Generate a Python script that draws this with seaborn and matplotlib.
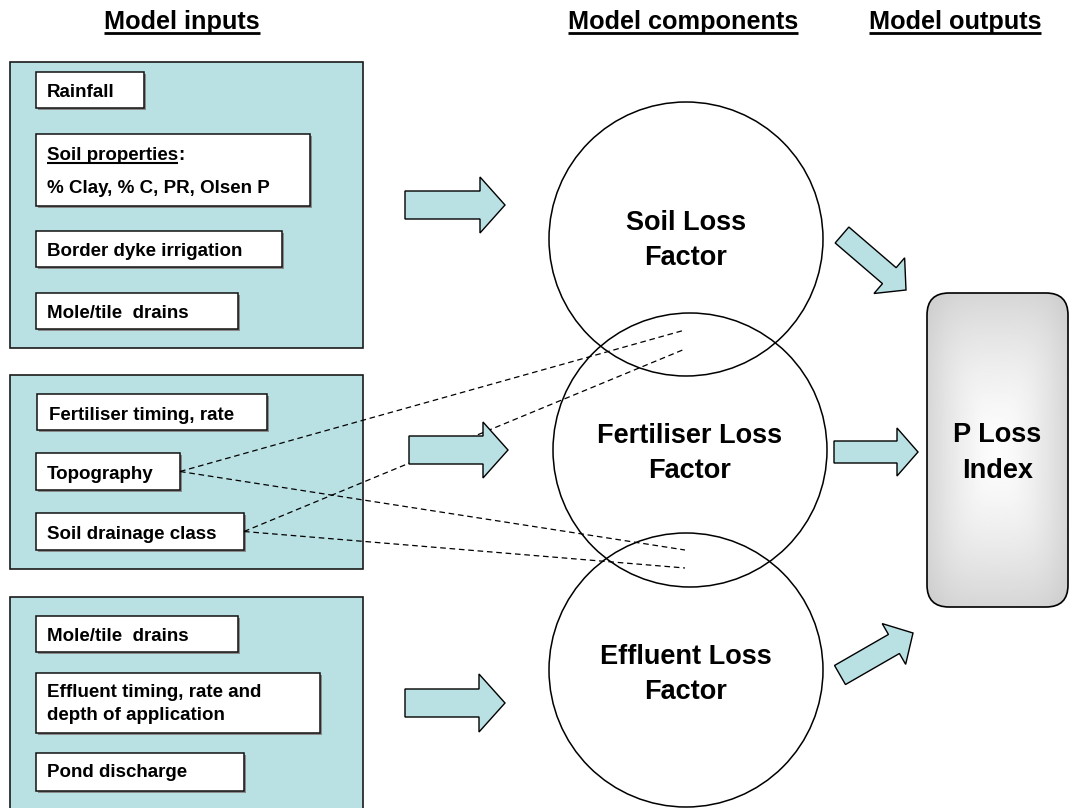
import numpy as np
import seaborn as sns
import matplotlib.pyplot as plt
from matplotlib.patches import Rectangle, Circle, FancyArrow, FancyBboxPatch

# ---- content ----
headers = ["Model inputs", "Model components", "Model outputs"]
soil_inputs = ["Rainfall", "Soil properties:\n% Clay, % C, PR, Olsen P",
               "Border dyke irrigation", "Mole/tile  drains"]
fert_inputs = ["Fertiliser timing, rate", "Topography", "Soil drainage class"]
effl_inputs = ["Mole/tile  drains", "Effluent timing, rate and\ndepth of application",
               "Pond discharge"]
components = ["Soil Loss\nFactor", "Fertiliser Loss\nFactor", "Effluent Loss\nFactor"]
output_label = "P Loss\nIndex"
# dashed links: (input item, component it also feeds)
links = [("Topography", 0), ("Soil drainage class", 0),
         ("Topography", 2), ("Soil drainage class", 2)]

# ---- layout (pixel coords, y down) ----
header_x = [182, 683, 955]
header_base = 29
panels = [(10, 62, 363, 348), (10, 375, 363, 569), (10, 597, 363, 830)]
# per item: box (x0, y0, x1, y1), first baseline
item_boxes = [
    [(36, 72, 144, 108, 97), (36, 134, 310, 206, 160), (36, 231, 282, 267, 256), (36, 293, 238, 329, 318)],
    [(37, 394, 267, 430, 420), (36, 453, 180, 490, 479), (36, 513, 244, 550, 539)],
    [(36, 616, 238, 652, 641), (36, 673, 320, 733, 697), (36, 753, 244, 791, 777)],
]
circles = [(686, 239, 137), (690, 450, 137), (686, 670, 137)]
circle_base = [230, 443, 664]
link_ends = {("Topography", 0): (685, 330), ("Soil drainage class", 0): (685, 349),
             ("Topography", 2): (685, 550), ("Soil drainage class", 2): (685, 568)}
# arrows: x0, y0, x1, y1, shaft width, head width, head length
arrows = [(405, 205, 505, 205, 28, 56, 25), (409, 450, 508, 450, 28, 56, 25),
          (405, 703, 505, 703, 28, 58, 26), (834, 452, 918, 452, 22, 48, 21),
          (842, 235, 906, 290, 21, 47, 22), (840, 675, 913, 633, 22, 47, 22)]
out_box = (927, 293, 1068, 607)

BLUE = "#B9E0E3"

sns.set_theme(style="white")
plt.rcParams['font.family'] = ['Liberation Sans', 'DejaVu Sans']
plt.rcParams['font.weight'] = 'bold'
plt.rcParams['text.color'] = 'black'

fig = plt.figure(figsize=(10.69, 8.08), dpi=100)
ax = fig.add_axes([0, 0, 1, 1])
ax.set_xlim(0, 1069)
ax.set_ylim(808, 0)
ax.axis('off')

renderer = fig.canvas.get_renderer()


def underline(txt, lw, off):
    bb = txt.get_window_extent(renderer=renderer)
    inv = ax.transData.inverted()
    (xa, _), (xb, _) = inv.transform([(bb.x0, bb.y0), (bb.x1, bb.y0)])
    y = txt.get_position()[1] + off
    ax.plot([xa, xb], [y, y], color='black', lw=lw, solid_capstyle='butt', zorder=6)


# headers
for label, hx in zip(headers, header_x):
    t = ax.text(hx, header_base, label, ha='center', va='baseline', fontsize=18.2,
                fontweight='bold', color='black', zorder=6)
    underline(t, 2.0, 3.5)

# input panels and items
groups = [soil_inputs, fert_inputs, effl_inputs]
item_pos = {}
for (px0, py0, px1, py1), items, boxes in zip(panels, groups, item_boxes):
    ax.add_patch(Rectangle((px0, py0), px1 - px0, py1 - py0, fc=BLUE, ec='#1a1a1a', lw=1.2, zorder=1))
    for label, (bx0, by0, bx1, by1, base) in zip(items, boxes):
        ax.add_patch(Rectangle((bx0 + 1.5, by0 + 1.5), bx1 - bx0, by1 - by0, fc='#8a8a8a', ec='none', zorder=2))
        ax.add_patch(Rectangle((bx0, by0), bx1 - bx0, by1 - by0, fc='white', ec='#111111', lw=1.1, zorder=3))
        tx = bx0 + 11 if bx0 == 36 else bx0 + 12
        lines = label.split("\n")
        for i, line in enumerate(lines):
            yb = base + i * (33 if label.startswith("Soil properties") else 23)
            if line.endswith(":"):
                t = ax.text(tx, yb, line[:-1], ha='left', va='baseline', fontsize=13.5,
                            color='black', zorder=5)
                underline(t, 1.5, 2.5)
                bb = t.get_window_extent(renderer=renderer)
                xe = ax.transData.inverted().transform((bb.x1, bb.y0))[0]
                ax.text(xe, yb, ":", ha='left', va='baseline', fontsize=13.5, color='black', zorder=5)
            else:
                ax.text(tx, yb, line, ha='left', va='baseline', fontsize=13.5, color='black', zorder=5)
        item_pos[label] = (bx1, (by0 + by1) / 2)

# dashed links
for key in links:
    sx, sy = item_pos[key[0]]
    ex, ey = link_ends[key]
    ax.plot([sx, ex], [sy, ey], color='black', lw=0.9, ls=(0, (4.5, 3)), zorder=3)

# component circles
for (cx, cy, r), label, base in zip(circles, components, circle_base):
    ax.add_patch(Circle((cx, cy), r, fc='none', ec='black', lw=1.1, zorder=4))
    for i, line in enumerate(label.split("\n")):
        ax.text(cx, base + i * 35, line, ha='center', va='baseline', fontsize=19.5,
                color='black', zorder=6)

# block arrows
for x0, y0, x1, y1, w, hw, hl in arrows:
    ax.add_patch(FancyArrow(x0, y0, x1 - x0, y1 - y0, width=w, head_width=hw, head_length=hl,
                            length_includes_head=True, fc=BLUE, ec='black', lw=1.0, zorder=5))

# output box with grey gradient
ox0, oy0, ox1, oy1 = out_box
box = FancyBboxPatch((ox0, oy0), ox1 - ox0, oy1 - oy0, boxstyle="round,pad=0,rounding_size=22",
                     fc='none', ec='black', lw=1.2, zorder=4)
ax.add_patch(box)
yy, xx = np.mgrid[-1:1:300j, -1:1:150j]
d = (np.abs(xx) ** 4 + np.abs(yy) ** 4) ** 0.25
shade = np.clip(0.99 - 0.15 * d ** 1.5, 0, 1)
im = ax.imshow(shade, cmap='gray', vmin=0, vmax=1, extent=(ox0, ox1, oy1, oy0),
               aspect='auto', interpolation='bilinear', zorder=3)
im.set_clip_path(box)
ax.set_xlim(0, 1069)
ax.set_ylim(808, 0)
ocx = (ox0 + ox1) / 2
for i, line in enumerate(output_label.split("\n")):
    ax.text(ocx, 442 + i * 36, line, ha='center', va='baseline', fontsize=19.5,
            color='black', zorder=6)

fig.savefig("out.png", dpi=100)
